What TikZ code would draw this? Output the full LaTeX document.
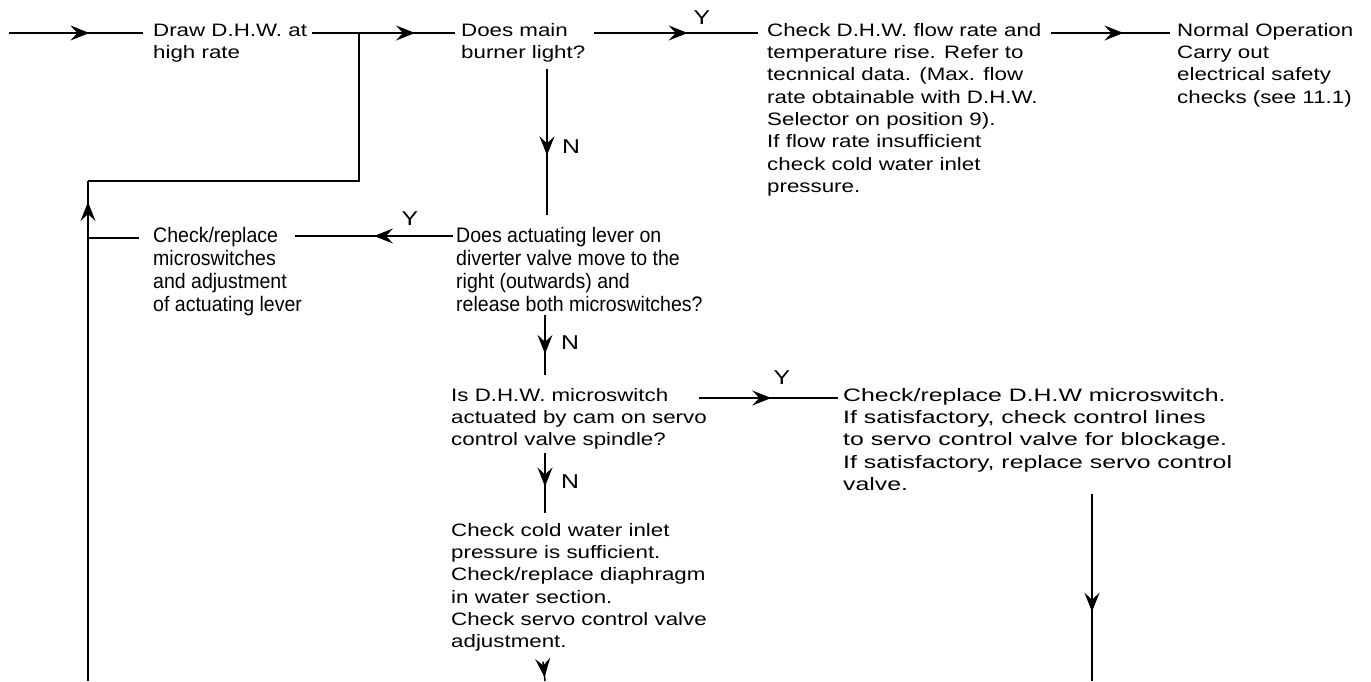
\documentclass[tikz,border=0pt]{standalone}
\usepackage{fontspec}
\setmainfont{Liberation Sans}[FakeStretch=1.24]
\newfontfamily\narrowfont{Liberation Sans}[FakeStretch=0.93]
\newfontfamily\loosefont{Liberation Sans}[FakeStretch=1.38]
\usepackage{tikz}
\usetikzlibrary{arrows.meta}
\usetikzlibrary{calc}
\usetikzlibrary{decorations.markings}
\tikzstyle{txt} = [anchor=north west, inner sep=0pt, align=left, font=\fontsize{18}{22.3}\selectfont]
\tikzstyle{txtn} = [txt, font=\narrowfont\fontsize{21}{23}\selectfont]
\tikzstyle{txtl} = [txt, font=\loosefont\fontsize{18}{22.3}\selectfont]
\tikzstyle{lab} = [inner sep=0pt, font=\fontsize{20}{22}\selectfont]
\tikzstyle{line} = [line width=1.5pt]
\tikzstyle{midarrow} = [postaction={decorate}, decoration={markings, mark=at position #1 with {\arrow{Stealth[length=19pt, width=15pt, inset=7pt]}}}]
\def \fl{\rule{0pt}{14pt}}
\def \fln{\rule{0pt}{16pt}}

\begin{document}
\begin{tikzpicture}[x=1pt, y=-1pt]
\useasboundingbox (0,0) rectangle (1371,681);

% Text boxes, top row
\node[txt] (drawhw) at (153, 22) {\fl Draw D.H.W. at\\high rate};
\node[txt] (burner) at (461, 22) {\fl Does main\\burner light?};
\node[txt] (flowchk) at (767, 22) {\fl Check D.H.W. flow rate and\\temperature rise. Refer to\\tecnnical data. (Max. flow\\rate obtainable with D.H.W.\\Selector on position 9).\\If flow rate insufficient\\check cold water inlet\\pressure.};
\node[txt] (normal) at (1177, 22) {\fl Normal Operation\\Carry out\\electrical safety\\checks (see 11.1)};
% Lever row
\node[txtn] (levchk) at (153, 226) {\fln Check/replace\\microswitches\\and adjustment\\of actuating lever};
\node[txtn] (lever) at (456, 226) {\fln Does actuating lever on\\diverter valve move to the\\right (outwards) and\\release both microswitches?};
% Microswitch row
\node[txt] (dhwsw) at (451, 387) {\fl Is D.H.W. microswitch\\actuated by cam on servo\\control valve spindle?};
\node[txtl] (swchk) at (843, 387) {\fl Check/replace D.H.W microswitch.\\If satisfactory, check control lines\\to servo control valve for blockage.\\If satisfactory, replace servo control\\valve.};
% Bottom
\node[txt] (coldchk) at (451, 522) {\fl Check cold water inlet\\pressure is sufficient.\\Check/replace diaphragm\\in water section.\\Check servo control valve\\adjustment.};

% Y / N labels
\node[lab] (y1) at (702, 18) {Y};
\node[lab] (y2) at (410, 219) {Y};
\node[lab] (y3) at (782, 378) {Y};
\node[lab] (n1) at (571, 147) {N};
\node[lab] (n2) at (570, 343) {N};
\node[lab] (n3) at (570, 482) {N};

% Free ends
\coordinate (entry) at (9, 33);
\coordinate (tap) at (359, 33);
\coordinate (loopR) at (359, 181);
\coordinate (loopL) at (88, 181);
\coordinate (loopB) at (88, 681);
\coordinate (swB) at (1092, 681);
\coordinate (coldB) at (545, 681);

% Connectors, top row
\draw[line, midarrow=0.6] (entry) -- ($(drawhw.north west)+(-10,11)$);
\draw[line, midarrow=0.72] ($(drawhw.north east)+(5,11)$) -- ($(burner.north west)+(-6,11)$);
\draw[line, midarrow=0.57] ($(burner.north east)+(9,11)$) -- ($(flowchk.north west)+(-9,11)$);
\draw[line, midarrow=0.61] ($(flowchk.north east)+(9,11)$) -- ($(normal.north west)+(-7,11)$);
\draw[line, midarrow=0.59] ($(burner.south west)+(86,7)$) -- ($(lever.north west)+(91,-11)$);
% Return loop
\draw[line] (tap) -- (loopR) -- (loopL);
\draw[line, midarrow=0.958] (loopB) -- (loopL);
\draw[line] ($(levchk.north west)+(-14,12)$) -- (loopB |- {$(levchk.north west)+(0,12)$});
\draw[line, midarrow=0.5] ($(lever.north west)+(-3,10)$) -- ($(levchk.north west)+(142,10)$);
% Middle column
\draw[line, midarrow=0.65] ($(lever.south west)+(89,3)$) -- ($(dhwsw.north west)+(94,-12)$);
\draw[line, midarrow=0.52] ($(dhwsw.north east)+(-8,11)$) -- ($(swchk.north west)+(-5,11)$);
\draw[line, midarrow=0.56] ($(dhwsw.south west)+(94,3)$) -- ($(coldchk.north west)+(94,-9)$);
\draw[line, midarrow=0.81] ($(coldchk.south west)+(92,10)$) -- (coldB);
\draw[line, midarrow=0.63] ($(swchk.south west)+(249,3)$) -- (swB);
\end{tikzpicture}
\end{document}
